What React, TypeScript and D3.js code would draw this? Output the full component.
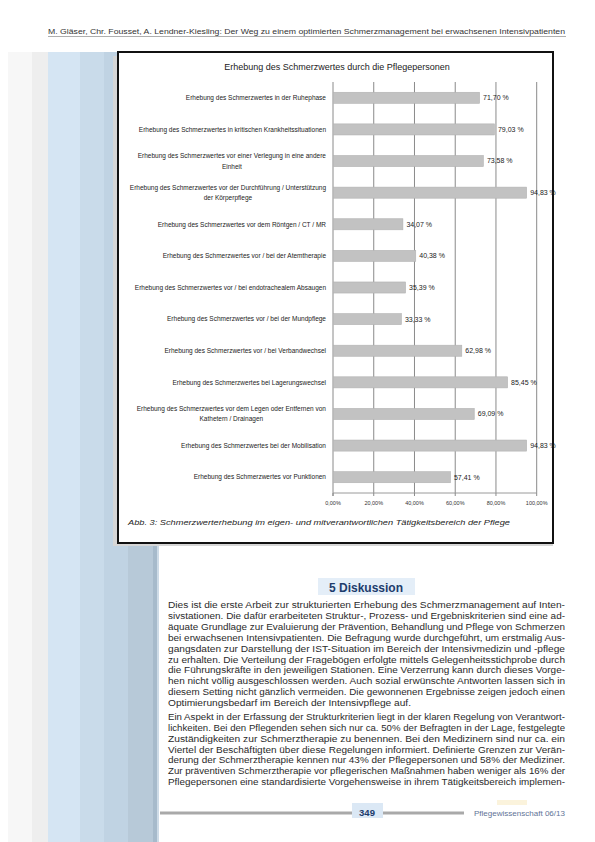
import React, { useEffect, useRef } from "react";
import * as d3 from "d3";

const categories: string[] = [
  "Erhebung des Schmerzwertes in der Ruhephase",
  "Erhebung des Schmerzwertes in kritischen Krankheitssituationen",
  "Erhebung des Schmerzwertes vor einer Verlegung in eine andere\nEinheit",
  "Erhebung des Schmerzwertes vor der Durchführung / Unterstützung\nder Körperpflege",
  "Erhebung des Schmerzwertes vor dem Röntgen / CT / MR",
  "Erhebung des Schmerzwertes vor / bei der Atemtherapie",
  "Erhebung des Schmerzwertes vor / bei endotrachealem Absaugen",
  "Erhebung des Schmerzwertes vor / bei der Mundpflege",
  "Erhebung des Schmerzwertes vor / bei Verbandwechsel",
  "Erhebung des Schmerzwertes bei Lagerungswechsel",
  "Erhebung des Schmerzwertes vor dem Legen oder Entfernen von\nKathetern / Drainagen",
  "Erhebung des Schmerzwertes bei der Mobilisation",
  "Erhebung des Schmerzwertes vor Punktionen",
];
const values: number[] = [
  71.7, 79.03, 73.58, 94.83, 34.07, 40.38, 35.39, 33.33, 62.98, 85.45, 69.09, 94.83, 57.41,
];
const ticks: number[] = [0, 20, 40, 60, 80, 100];

const chartTitle = "Erhebung des Schmerzwertes durch die Pflegepersonen";
const caption =
  "Abb. 3: Schmerzwerterhebung im eigen- und mitverantwortlichen Tätigkeitsbereich der Pflege";
const header =
  "M. Gläser, Chr. Fousset, A. Lendner-Kiesling: Der Weg zu einem optimierten Schmerzmanagement bei erwachsenen Intensivpatienten";
const heading = "5 Diskussion";
const para1: string[] = [
  "Dies ist die erste Arbeit zur strukturierten Erhebung des Schmerzmanagement auf Inten-",
  "sivstationen. Die dafür erarbeiteten Struktur-, Prozess- und Ergebniskriterien sind eine ad-",
  "äquate Grundlage zur Evaluierung der Prävention, Behandlung und Pflege von Schmerzen",
  "bei erwachsenen Intensivpatienten. Die Befragung wurde durchgeführt, um erstmalig Aus-",
  "gangsdaten zur Darstellung der IST-Situation im Bereich der Intensivmedizin und -pflege",
  "zu erhalten. Die Verteilung der Fragebögen erfolgte mittels Gelegenheitsstichprobe durch",
  "die Führungskräfte in den jeweiligen Stationen. Eine Verzerrung kann durch dieses Vorge-",
  "hen nicht völlig ausgeschlossen werden. Auch sozial erwünschte Antworten lassen sich in",
  "diesem Setting nicht gänzlich vermeiden. Die gewonnenen Ergebnisse zeigen jedoch einen",
  "Optimierungsbedarf im Bereich der Intensivpflege auf.",
];
const para2: string[] = [
  "Ein Aspekt in der Erfassung der Strukturkriterien liegt in der klaren Regelung von Verantwort-",
  "lichkeiten. Bei den Pflegenden sehen sich nur ca. 50% der Befragten in der Lage, festgelegte",
  "Zuständigkeiten zur Schmerztherapie zu benennen. Bei den Medizinern sind nur ca. ein",
  "Viertel der Beschäftigten über diese Regelungen informiert. Definierte Grenzen zur Verän-",
  "derung der Schmerztherapie kennen nur 43% der Pflegepersonen und 58% der Mediziner.",
  "Zur präventiven Schmerztherapie vor pflegerischen Maßnahmen haben weniger als 16% der",
  "Pflegepersonen eine standardisierte Vorgehensweise in ihrem Tätigkeitsbereich implemen-",
];
const pageNumber = "349";
const journal = "Pflegewissenschaft 06/13";

const stripes: [number, number, string][] = [
  [8, 24, "#f7f7f7"],
  [32, 16, "#eeeeee"],
  [48, 32, "#d5e5f3"],
  [80, 24, "#c9dbea"],
  [104, 24, "#c0d3e3"],
  [128, 25, "#b7c9d8"],
  [153, 4, "#a6bacb"],
  [157, 2, "#cddbe7"],
];

const FONT = "'Liberation Sans', Arial, sans-serif";

function Chart() {
  const ref = useRef<SVGGElement>(null);
  useEffect(() => {
    const g = d3.select(ref.current);
    g.selectAll("*").remove();
    const x = d3.scaleLinear().domain([0, 100]).range([333, 536.7]);
    const y = d3
      .scaleBand<string>()
      .domain(categories)
      .range([82, 493])
      .paddingInner(0.65)
      .paddingOuter(0.325);

    g.selectAll("line.grid")
      .data(ticks.slice(1))
      .join("line")
      .attr("x1", (d) => x(d))
      .attr("x2", (d) => x(d))
      .attr("y1", 82)
      .attr("y2", 493)
      .attr("stroke", "#8a8a8a")
      .attr("stroke-width", 1);
    g.append("line")
      .attr("x1", x(0)).attr("x2", x(0)).attr("y1", 82).attr("y2", 496)
      .attr("stroke", "#8a8a8a").attr("stroke-width", 1);
    g.append("line")
      .attr("x1", x(0)).attr("x2", x(100)).attr("y1", 493).attr("y2", 493)
      .attr("stroke", "#9a9a9a").attr("stroke-width", 1);
    g.selectAll("line.tick")
      .data(ticks)
      .join("line")
      .attr("x1", (d) => x(d)).attr("x2", (d) => x(d))
      .attr("y1", 493).attr("y2", 496)
      .attr("stroke", "#8a8a8a");
    g.selectAll("text.tick")
      .data(ticks)
      .join("text")
      .attr("x", (d) => x(d))
      .attr("y", 505)
      .attr("text-anchor", "middle")
      .attr("font-size", 5.5)
      .attr("font-family", FONT)
      .attr("fill", "#333")
      .text((d) => d.toFixed(2).replace(".", ",") + "%");

    g.selectAll("rect.bar")
      .data(values)
      .join("rect")
      .attr("x", x(0) + 0.5)
      .attr("y", (_, i) => y(categories[i])!)
      .attr("width", (d) => x(d) - x(0))
      .attr("height", y.bandwidth())
      .attr("fill", "#c2c2c2")
      .attr("stroke", "#b2b2b2")
      .attr("stroke-width", 0.6);

    g.selectAll("text.val")
      .data(values)
      .join("text")
      .attr("x", (d) => x(d) + 4)
      .attr("y", (_, i) => y(categories[i])! + y.bandwidth() / 2)
      .attr("dy", "0.35em")
      .attr("font-size", 7)
      .attr("font-family", FONT)
      .attr("fill", "#222")
      .text((d) => d.toFixed(2).replace(".", ",") + " %");

    categories.forEach((c) => {
      const lines = c.split("\n");
      const cy = y(c)! + y.bandwidth() / 2;
      const lg = g.append("g");
      const texts = lines.map((l, j) =>
        lg
          .append("text")
          .attr("y", cy + (j - (lines.length - 1) / 2) * 10.5)
          .attr("dy", "0.35em")
          .attr("font-size", 6.5)
          .attr("font-family", FONT)
          .attr("fill", "#222")
          .attr("text-anchor", "middle")
          .text(l)
      );
      const widths = texts.map((t) => (t.node() as SVGTextElement).getComputedTextLength());
      const maxW = Math.max(...widths);
      const cx = 326 - maxW / 2;
      texts.forEach((t) => t.attr("x", cx));
    });
  }, []);
  return <g ref={ref} />;
}

function Para({ lines, y0, lh, lastW }: { lines: string[]; y0: number; lh: number; lastW: number }) {
  return (
    <g>
      {lines.map((l, i) => {
        const last = i === lines.length - 1 && l.endsWith(".");
        return (
          <text
            key={i}
            x={168}
            y={y0 + i * lh}
            fontSize={8.5}
            fontFamily={FONT}
            fill="#2a2a2a"
            textLength={last ? lastW : 397}
            lengthAdjust="spacingAndGlyphs"
          >
            {l}
          </text>
        );
      })}
    </g>
  );
}

export default function App() {
  return (
    <svg
      width={595}
      height={842}
      viewBox="0 0 595 842"
      style={{ position: "absolute", left: 0, top: 0, background: "#fff" }}
    >
      <rect x={0} y={0} width={595} height={842} fill="#fff" />
      {stripes.map(([sx, w, c], i) => (
        <rect key={i} x={sx} y={52} width={w} height={790} fill={c} />
      ))}
      <text
        x={48}
        y={34}
        fontSize={7.4}
        fontFamily={FONT}
        fill="#333"
        textLength={517}
        lengthAdjust="spacingAndGlyphs"
      >
        {header}
      </text>
      <line x1={48} x2={566} y1={36.5} y2={36.5} stroke="#777" strokeWidth={0.6} />

      <rect x={113} y={56} width={440} height={490} fill="#d6d6d6" />
      <rect x={118} y={52} width={435} height={491} fill="#fff" stroke="#111" strokeWidth={2} />
      <text x={337} y={70} textAnchor="middle" fontSize={9} fontFamily={FONT} fill="#222">
        {chartTitle}
      </text>
      <Chart />
      <text
        x={128}
        y={525}
        fontSize={8}
        fontStyle="italic"
        fontFamily={FONT}
        fill="#222"
        textLength={382}
        lengthAdjust="spacingAndGlyphs"
      >
        {caption}
      </text>

      <rect x={318} y={578} width={97} height={17} fill="#e4eef8" />
      <text
        x={366}
        y={592}
        textAnchor="middle"
        fontSize={12}
        fontWeight="bold"
        fontFamily={FONT}
        fill="#1d3c6c"
      >
        {heading}
      </text>
      <Para lines={para1} y0={608} lh={10.9} lastW={243} />
      <Para lines={para2} y0={720} lh={10.85} lastW={397} />

      <rect x={160} y={811.5} width={304} height={3} fill="#a9a9a9" />
      <rect x={352} y={803} width={31} height={15} fill="#dbe8f5" />
      <text
        x={367}
        y={816}
        textAnchor="middle"
        fontSize={9.5}
        fontWeight="bold"
        fontFamily={FONT}
        fill="#1d3c6c"
      >
        {pageNumber}
      </text>
      <rect x={497} y={800} width={30} height={5} fill="#fbf3dc" />
      <text
        x={474}
        y={816}
        fontSize={7.5}
        fontFamily={FONT}
        fill="#5f7497"
        textLength={91}
        lengthAdjust="spacingAndGlyphs"
      >
        {journal}
      </text>
    </svg>
  );
}
